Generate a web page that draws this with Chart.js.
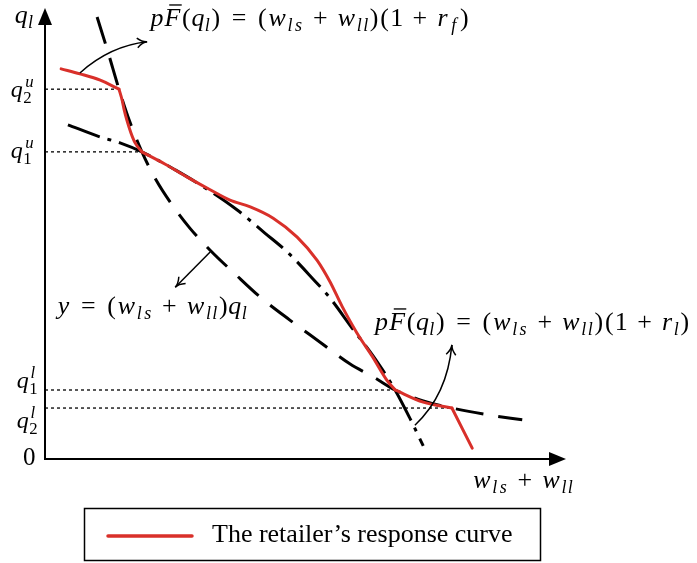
<!DOCTYPE html>
<html>
<head>
<meta charset="utf-8">
<style>
  html, body { margin: 0; padding: 0; background: #fff; }
  #wrap { width: 697px; height: 563px; }
</style>
<script src="https://cdn.jsdelivr.net/npm/chart.js@4.4.1/dist/chart.umd.min.js"></script>
</head>
<body>
<div id="wrap"><canvas id="c" width="697" height="563"></canvas></div>
<script>
// Threshold curve y = (w_ls + w_ll) q_l  (long dashes)
const budgetX = [10.0, 12.1, 14.2, 16.3, 18.6, 21.1, 24.0, 27.8, 31.7, 36.5, 41.3, 47.0, 52.8, 58.5, 63.3, 67.2, 72.6, 78.1, 85.0, 91.6];
const budgetY = [98.0, 90.2, 82.0, 74.7, 68.1, 62.3, 57.0, 51.2, 46.3, 41.0, 35.9, 30.8, 25.9, 21.1, 18.0, 15.3, 12.9, 11.3, 9.8, 8.7];

// Curve pF(q_l) = (w_ls + w_ll)(1 + r_l)  (dash-dot)
const lowRateX = [4.4, 10.6, 14.4, 18.6, 25.0, 31.3, 36.9, 42.2, 46.5, 51.3, 54.7, 58.9, 63.0, 67.2, 70.1, 72.6];
const lowRateY = [74.1, 71.4, 70.1, 68.1, 64.1, 59.7, 55.2, 50.1, 45.9, 40.1, 35.7, 29.1, 22.8, 15.3, 8.9, 2.9];

// The retailer's response curve, piece by piece between its kinks
const respX1 = [3.1, 6.7, 10.6, 14.2];
const respY1 = [86.5, 85.4, 84.0, 82.0];
const respX2 = [14.2, 14.8, 15.2, 15.7, 16.5, 17.3, 18.6];
const respY2 = [82.0, 79.6, 77.4, 75.2, 72.3, 70.1, 68.1];
const respX3 = [18.6, 23.0, 27.3, 31.7, 35.5, 39.4, 43.8, 48.4, 52.2, 54.7, 57.0, 59.9, 62.8, 65.6, 67.2];
const respY3 = [68.1, 65.4, 62.5, 59.7, 57.4, 55.9, 53.4, 49.2, 44.1, 39.3, 33.9, 27.9, 22.8, 17.5, 15.3];
const respX4 = [67.2, 72.6, 78.1];
const respY4 = [15.3, 12.6, 11.3];
const respX5 = [78.1, 82.0];
const respY5 = [11.3, 2.4];

// Threshold levels on the q_l axis and where their guide lines stop
const levelY = [82.0, 68.1, 15.3, 11.3];
const levelEndX = [14.2, 18.6, 67.2, 78.1];

const RED = '#d9302a';
const MATH_FONT = '"Liberation Serif"';

// Math-style labels: [text, kind]; kinds: i italic, r upright, b subscript,
// rb upright subscript, p superscript (stacked over the next subscript),
// bar italic letter with an overbar, sp horizontal space in em
const tickLabels = [
  [['q', 'i'], ['u', 'p'], ['2', 'rb']],
  [['q', 'i'], ['u', 'p'], ['1', 'rb']],
  [['q', 'i'], ['l', 'p'], ['1', 'rb']],
  [['q', 'i'], ['l', 'p'], ['2', 'rb']]
];
const rateLabel = r => [['p', 'i'], ['F', 'bar'], ['(', 'r'], ['q', 'i'], ['l', 'b'], [')', 'r'],
  [0.278, 'sp'], ['=', 'r'], [0.278, 'sp'], ['(', 'r'], ['w', 'i'], ['ls', 'b'], [0.222, 'sp'], ['+', 'r'],
  [0.222, 'sp'], ['w', 'i'], ['ll', 'b'], [')', 'r'], ['(', 'r'], ['1', 'r'], [0.222, 'sp'], ['+', 'r'],
  [0.222, 'sp'], ['r', 'i'], [r, 'b'], [')', 'r']];
const budgetLabel = [['y', 'i'], [0.278, 'sp'], ['=', 'r'], [0.278, 'sp'], ['(', 'r'], ['w', 'i'], ['ls', 'b'],
  [0.222, 'sp'], ['+', 'r'], [0.222, 'sp'], ['w', 'i'], ['ll', 'b'], [')', 'r'], ['q', 'i'], ['l', 'b']];
const xAxisLabel = [['w', 'i'], ['ls', 'b'], [0.222, 'sp'], ['+', 'r'], [0.222, 'sp'], ['w', 'i'], ['ll', 'b']];
const yAxisLabel = [['q', 'i'], ['l', 'b']];

// advance widths (em) of a classic math typeface, used to space the glyphs
const ADV = {
  i: { p: .503, F: .643, q: .46, w: .716, y: .49, r: .451, l: .298, s: .469, f: .49, u: .572 },
  r: { '(': .389, ')': .389, '=': .778, '+': .778, '0': .5, '1': .5, '2': .5 },
  si: { l: .34, s: .55, f: .55, u: .66 },
  sr: { '1': .569, '2': .569 }
};

function drawMath(ctx, parts, x, y, S) {
  const G = S * 0.96;
  let cx = x, pendingSup = 0;
  ctx.textBaseline = 'alphabetic';
  ctx.textAlign = 'center';
  for (const [t, k] of parts) {
    if (k === 'sp') { cx += t * S; continue; }
    let fs = G, dy = 0, it = true, table = ADV.i, scale = 1;
    if (k === 'r') { it = false; table = ADV.r; }
    if (k === 'b') { fs = G * 0.7; dy = S * 0.18; table = ADV.si; scale = 0.7; }
    if (k === 'rb') { fs = G * 0.7; dy = S * 0.25; it = false; table = ADV.sr; scale = 0.7; }
    if (k === 'p') { fs = G * 0.7; dy = -S * 0.4; table = ADV.si; scale = 0.7; }
    ctx.font = (it ? 'italic ' : '') + fs.toFixed(1) + 'px ' + MATH_FONT;
    let w = 0;
    for (const ch of t) {
      const a = (table[ch] || 0.5) * scale * S;
      const off = k === 'p' ? S * 0.05 : 0;
      ctx.fillText(ch, cx + w + off + a / 2, y + dy);
      w += a;
    }
    if (k === 'bar') {
      ctx.save();
      ctx.lineWidth = S * 0.05;
      ctx.beginPath();
      ctx.moveTo(cx + S * 0.2, y - S * 0.78);
      ctx.lineTo(cx + w + S * 0.02, y - S * 0.78);
      ctx.stroke();
      ctx.restore();
    }
    if (k === 'p') { pendingSup = w + S * 0.05; }
    else { cx += Math.max(w, pendingSup); pendingSup = 0; }
  }
  ctx.textAlign = 'left';
  return cx;
}

function openHead(ctx, tx, ty, ang, len) {
  ctx.beginPath();
  ctx.moveTo(tx - len * Math.cos(ang - 0.45), ty - len * Math.sin(ang - 0.45));
  ctx.quadraticCurveTo(tx - len * 0.4 * Math.cos(ang), ty - len * 0.4 * Math.sin(ang), tx, ty);
  ctx.quadraticCurveTo(tx - len * 0.4 * Math.cos(ang), ty - len * 0.4 * Math.sin(ang),
    tx - len * Math.cos(ang + 0.45), ty - len * Math.sin(ang + 0.45));
  ctx.stroke();
}

const decor = {
  id: 'decor',
  afterDatasetsDraw(chart) {
    const ctx = chart.ctx;
    const X = chart.scales.x, Y = chart.scales.y;
    const sx = v => X.getPixelForValue(v), sy = v => Y.getPixelForValue(v);
    ctx.save();
    ctx.fillStyle = '#000';
    ctx.strokeStyle = '#000';

    // axes with filled arrowheads
    const ox = sx(0), oy = sy(0), xe = sx(100), ye = sy(100);
    ctx.lineWidth = 2;
    ctx.beginPath();
    ctx.moveTo(ox, oy);
    ctx.lineTo(ox, ye + 14);
    ctx.moveTo(ox - 1, oy);
    ctx.lineTo(xe - 14, oy);
    ctx.stroke();
    ctx.beginPath();
    ctx.moveTo(ox, ye); ctx.lineTo(ox - 7, ye + 17); ctx.lineTo(ox + 7, ye + 17); ctx.closePath();
    ctx.fill();
    ctx.beginPath();
    ctx.moveTo(xe, oy); ctx.lineTo(xe - 17, oy - 7); ctx.lineTo(xe - 17, oy + 7); ctx.closePath();
    ctx.fill();

    // annotation arrows
    ctx.lineWidth = 1.5;
    // to the (1 + r_f) label
    let p0 = [sx(6.7), sy(85.6)], c = [sx(12.5), sy(91.6)], p2 = [sx(19.6), sy(92.5)];
    ctx.beginPath(); ctx.moveTo(...p0); ctx.quadraticCurveTo(...c, ...p2); ctx.stroke();
    openHead(ctx, p2[0], p2[1], Math.atan2(p2[1] - c[1], p2[0] - c[0]), 11);
    // to the y = (w_ls + w_ll) q_l label
    p0 = [sx(31.7), sy(45.9)]; p2 = [sx(25.0), sy(38.1)];
    ctx.beginPath(); ctx.moveTo(...p0); ctx.lineTo(...p2); ctx.stroke();
    openHead(ctx, p2[0], p2[1], Math.atan2(p2[1] - p0[1], p2[0] - p0[0]), 11);
    // to the (1 + r_l) label
    p0 = [sx(71.0), sy(7.5)]; c = [sx(77.2), sy(14.2)]; p2 = [sx(78.1), sy(25.3)];
    ctx.beginPath(); ctx.moveTo(...p0); ctx.quadraticCurveTo(...c, ...p2); ctx.stroke();
    openHead(ctx, p2[0], p2[1], Math.atan2(p2[1] - c[1], p2[0] - c[0]), 11);

    // curve labels
    const S = 27;
    drawMath(ctx, rateLabel('f'), sx(20.2), sy(96.0), S);
    drawMath(ctx, rateLabel('l'), sx(63.3), sy(28.6), S);
    drawMath(ctx, budgetLabel, sx(2.3), sy(32.2), S);

    // axis titles
    drawMath(ctx, yAxisLabel, ox - 30, ye + 15, S);
    drawMath(ctx, xAxisLabel, sx(82.0), oy + 29, S);

    // threshold tick labels
    const tickDx = [-34, -34, -28, -28];
    const tickDy = [8, 6, -2, 20];
    tickLabels.forEach((parts, i) => drawMath(ctx, parts, ox + tickDx[i], sy(levelY[i]) + tickDy[i], 25));
    ctx.font = '25px ' + MATH_FONT;
    ctx.fillText('0', ox - 22, oy + 6);

    // legend box
    ctx.lineWidth = 1.5;
    ctx.strokeRect(84.5, 508.5, 456, 52);
    ctx.strokeStyle = RED;
    ctx.lineWidth = 3.5;
    ctx.lineCap = 'round';
    ctx.beginPath(); ctx.moveTo(108, 536); ctx.lineTo(192, 536); ctx.stroke();
    ctx.fillStyle = '#000';
    ctx.font = '26px "Liberation Serif"';
    ctx.fillText('The retailer\u2019s response curve', 212, 542);
    ctx.restore();
  }
};

const pts = (xs, ys) => xs.map((x, i) => ({ x, y: ys[i] }));
const redSeg = (xs, ys) => ({
  data: pts(xs, ys), borderColor: RED, borderWidth: 3,
  borderCapStyle: 'round', borderJoinStyle: 'round', cubicInterpolationMode: 'monotone'
});

const datasets = [
  redSeg(respX1, respY1), redSeg(respX2, respY2), redSeg(respX3, respY3),
  redSeg(respX4, respY4), redSeg(respX5, respY5),
  { data: pts(lowRateX, lowRateY), borderColor: '#000', borderWidth: 3, borderDash: [34, 8, 4, 8],
    cubicInterpolationMode: 'monotone' },
  { data: pts(budgetX, budgetY), borderColor: '#000', borderWidth: 3, borderDash: [28, 15],
    cubicInterpolationMode: 'monotone' }
];
levelY.forEach((v, i) => datasets.push({
  data: [{ x: 0, y: v }, { x: levelEndX[i], y: v }],
  borderColor: '#000', borderWidth: 1.3, borderDash: [3, 3]
}));

new Chart(document.getElementById('c'), {
  type: 'scatter',
  data: { datasets: datasets.map(d => Object.assign({ showLine: true, pointRadius: 0, clip: false }, d)) },
  options: {
    responsive: false,
    devicePixelRatio: 1,
    animation: false,
    layout: { padding: { left: 45, right: 131, top: 8, bottom: 104 } },
    scales: {
      x: { type: 'linear', min: 0, max: 100, display: false },
      y: { type: 'linear', min: 0, max: 100, display: false }
    },
    plugins: { legend: { display: false }, tooltip: { enabled: false } }
  },
  plugins: [decor]
});
</script>
</body>
</html>
